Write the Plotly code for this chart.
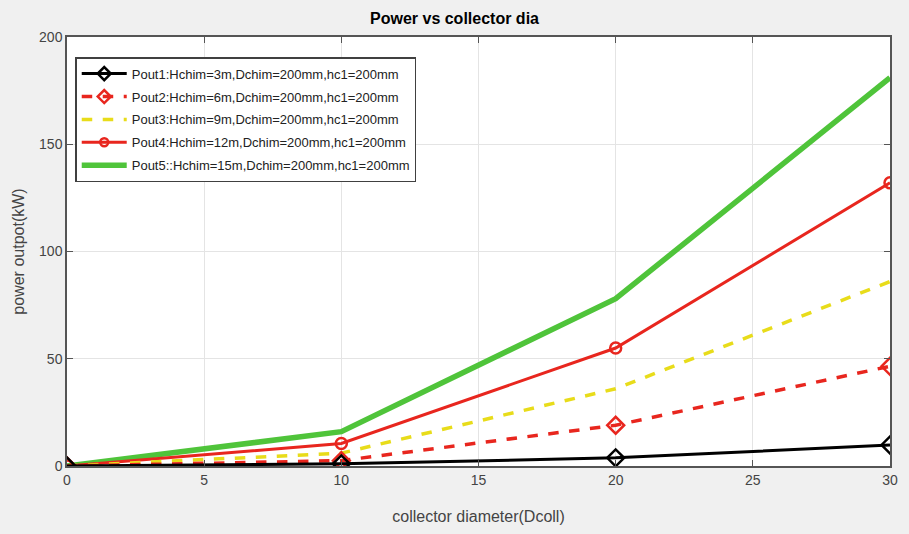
import plotly.graph_objects as go

x_vals = [0, 10, 20, 30]
pout1 = [0, 1.0, 3.8, 9.8]
pout2 = [0, 2.5, 19, 46.5]
pout3 = [0, 6, 36, 86]
pout4 = [0, 10.5, 55, 132]
pout5 = [0, 16, 78, 181]

names = [
    "Pout1:Hchim=3m,Dchim=200mm,hc1=200mm",
    "Pout2:Hchim=6m,Dchim=200mm,hc1=200mm",
    "Pout3:Hchim=9m,Dchim=200mm,hc1=200mm",
    "Pout4:Hchim=12m,Dchim=200mm,hc1=200mm",
    "Pout5::Hchim=15m,Dchim=200mm,hc1=200mm",
]

FONT = "Liberation Sans, Arial"

fig = go.Figure()
fig.add_trace(go.Scatter(x=x_vals, y=pout5, name=names[4], mode="lines",
                         line=dict(color="#4fc43a", width=5.5), showlegend=False))
fig.add_trace(go.Scatter(x=x_vals, y=pout4, name=names[3], mode="lines+markers",
                         line=dict(color="#e8261e", width=3),
                         marker=dict(symbol="circle-open", size=11, color="#e8261e", line=dict(width=2.5)), showlegend=False))
fig.add_trace(go.Scatter(x=x_vals, y=pout3, name=names[2], mode="lines",
                         line=dict(color="#e8dc1a", width=3.5, dash="dash"), showlegend=False))
fig.add_trace(go.Scatter(x=x_vals, y=pout2, name=names[1], mode="lines+markers",
                         line=dict(color="#e8261e", width=3.5, dash="dash"),
                         marker=dict(symbol="diamond-open", size=13, color="#e8261e", line=dict(width=2.5)), showlegend=False))
fig.add_trace(go.Scatter(x=x_vals, y=pout1, name=names[0], mode="lines+markers",
                         line=dict(color="#000000", width=3),
                         marker=dict(symbol="diamond-open", size=13, color="#000000", line=dict(width=2.5)), showlegend=False))

legend_specs = [
    (names[0], "lines+markers", dict(color="#000000", width=3), dict(symbol="diamond-open", size=10, color="#000000", line=dict(width=2.5))),
    (names[1], "lines+markers", dict(color="#e8261e", width=3.5, dash="dash"), dict(symbol="diamond-open", size=10, color="#e8261e", line=dict(width=2.5))),
    (names[2], "lines", dict(color="#e8dc1a", width=3.5, dash="dash"), None),
    (names[3], "lines+markers", dict(color="#e8261e", width=3), dict(symbol="circle-open", size=8, color="#e8261e", line=dict(width=2.5))),
    (names[4], "lines", dict(color="#4fc43a", width=5.5), None),
]
for i, (nm, md, ln, mk) in enumerate(legend_specs):
    kw = dict(x=[None], y=[None], name=nm, mode=md, line=ln, showlegend=True, legendgroup="g%d" % i)
    if mk:
        kw["marker"] = mk
    fig.add_trace(go.Scatter(**kw))

fig.update_layout(
    width=909, height=534,
    paper_bgcolor="#f0f0f0", plot_bgcolor="#ffffff",
    margin=dict(l=67, r=19, t=37, b=68),
    font=dict(family=FONT, size=14, color="#404040"),
    title=dict(text="<b>Power vs collector dia</b>", x=0.5, xanchor="center", y=0.965, yanchor="middle",
               font=dict(family=FONT, size=16, color="#000000")),
    legend=dict(x=0.01, y=0.953, xanchor="left", yanchor="top", bgcolor="#ffffff",
                bordercolor="#404040", borderwidth=1.5, tracegroupgap=3,
                font=dict(family=FONT, size=13, color="#222222"), itemwidth=45),
    showlegend=True,
)
fig.update_xaxes(range=[0, 30], tickvals=[0, 5, 10, 15, 20, 25, 30], showgrid=True, gridcolor="#e4e4e4",
                 zeroline=False, showline=True, linecolor="#555555", linewidth=1.5, mirror="ticks",
                 ticks="inside", ticklen=6, tickcolor="#555555",
                 title=dict(text="collector diameter(Dcoll)", standoff=24, font=dict(size=16, color="#444444")),
                 tickfont=dict(size=14, color="#444444"))
fig.update_yaxes(range=[0, 200], tickvals=[0, 50, 100, 150, 200], showgrid=True, gridcolor="#e4e4e4",
                 zeroline=False, showline=True, linecolor="#555555", linewidth=1.5, mirror="ticks",
                 ticks="inside", ticklen=6, tickcolor="#555555",
                 title=dict(text="power outpot(kW)", standoff=10, font=dict(size=16, color="#444444")),
                 tickfont=dict(size=14, color="#444444"))

fig.write_html("out.html", config={"displayModeBar": False},
               post_script="document.body.style.margin='0';document.body.style.overflow='hidden';")
